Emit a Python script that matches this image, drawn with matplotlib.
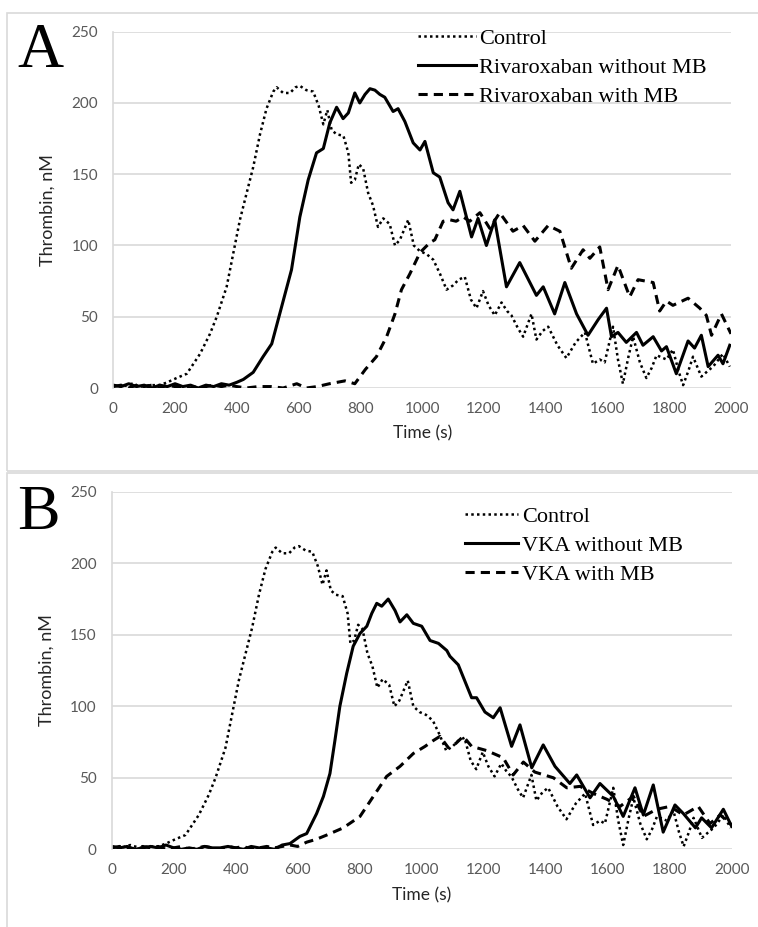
import numpy as np
import matplotlib.pyplot as plt
from matplotlib.patches import Rectangle
from matplotlib.lines import Line2D

# =============================
# Data
# =============================
ctrl_t = [0, 30, 60, 90, 120, 150, 175, 205, 238, 281,
          313, 335, 367, 388, 410, 432, 453, 475, 496, 518,
          529, 550, 572, 590, 604, 625, 647, 665, 680, 693,
          707, 723, 745, 761, 770, 782, 795, 809, 825, 841,
          857, 874, 895, 912, 928, 955, 973, 993, 1014, 1036,
          1058, 1079, 1100, 1118, 1138, 1158, 1176, 1197, 1215, 1235,
          1257, 1275, 1289, 1310, 1327, 1354, 1370, 1390, 1408, 1438,
          1467, 1497, 1527, 1553, 1575, 1591, 1618, 1634, 1650, 1668,
          1683, 1705, 1726, 1743, 1759, 1791, 1812, 1830, 1845, 1862,
          1877, 1904, 1925, 1942, 1974, 1996]
ctrl_v = [2, 1, 3, 1, 2, 2, 4, 7, 10, 24,
          38, 50, 71, 94, 118, 137, 155, 178, 196, 208,
          211, 207, 207, 211, 212, 209, 208, 198, 185, 195,
          181, 178, 177, 165, 144, 146, 157, 154, 137, 128,
          113, 119, 115, 100, 104, 118, 100, 96, 94, 90,
          80, 69, 72, 76, 78, 62, 56, 68, 58, 51,
          60, 54, 51, 42, 36, 52, 34, 40, 43, 30,
          21, 32, 39, 17, 20, 18, 43, 20, 3, 22,
          36, 18, 7, 14, 23, 20, 27, 12, 2, 12,
          22, 8, 12, 15, 24, 15]

riva_t = [0, 25, 50, 75, 100, 125, 150, 175, 200, 225,
          250, 275, 300, 325, 350, 375, 400, 421, 453, 485,
          513, 545, 577, 604, 631, 658, 680, 701, 723, 744,
          761, 782, 798, 815, 831, 847, 863, 879, 906, 922,
          944, 971, 993, 1009, 1036, 1057, 1084, 1100, 1122, 1160,
          1181, 1208, 1235, 1273, 1316, 1370, 1392, 1429, 1462, 1500,
          1537, 1570, 1597, 1613, 1634, 1661, 1694, 1715, 1748, 1775,
          1791, 1823, 1861, 1882, 1904, 1926, 1958, 1974, 1996]
riva_v = [2, 1, 3, 1, 2, 0, 2, 1, 3, 1,
          2, 0, 2, 1, 3, 2, 4, 6, 11, 22,
          31, 57, 83, 120, 146, 165, 168, 186, 197, 189,
          193, 207, 200, 206, 210, 209, 206, 204, 194, 196,
          187, 172, 167, 173, 151, 148, 130, 125, 138, 106,
          119, 100, 118, 71, 88, 65, 71, 52, 74, 52,
          37, 48, 56, 36, 39, 32, 39, 30, 36, 26,
          29, 10, 33, 28, 37, 15, 23, 17, 30]

riva_mb_t = [0, 25, 50, 75, 100, 125, 150, 175, 200, 225,
             250, 275, 300, 325, 350, 375, 400, 430, 470, 510,
             550, 594, 625, 660, 700, 750, 782, 816, 852, 885,
             912, 933, 960, 993, 1025, 1041, 1068, 1090, 1110, 1133,
             1154, 1187, 1219, 1251, 1294, 1327, 1365, 1408, 1446, 1483,
             1521, 1543, 1575, 1602, 1634, 1672, 1699, 1748, 1769, 1791,
             1812, 1861, 1899, 1920, 1937, 1969, 2000]
riva_mb_v = [1, 2, 0, 2, 1, 2, 0, 2, 1, 1,
             0, 1, 1, 2, 1, 2, 1, 0, 1, 1,
             0, 3, 0, 1, 3, 5, 3, 13, 22, 36,
             52, 69, 80, 95, 102, 104, 117, 118, 117, 120,
             117, 123, 112, 123, 110, 114, 103, 114, 110, 84,
             97, 91, 99, 69, 86, 64, 76, 74, 54, 61,
             58, 63, 56, 51, 37, 52, 38]

vka_t = [0, 25, 50, 75, 100, 125, 150, 175, 200, 225,
         250, 275, 300, 325, 350, 375, 400, 425, 450, 475,
         500, 525, 550, 575, 607, 629, 661, 683, 704, 720,
         736, 758, 779, 801, 823, 839, 855, 871, 892, 914,
         930, 952, 973, 1000, 1027, 1054, 1081, 1091, 1118, 1161,
         1177, 1204, 1231, 1253, 1290, 1317, 1355, 1392, 1430, 1478,
         1500, 1543, 1575, 1618, 1650, 1688, 1715, 1747, 1779, 1817,
         1844, 1883, 1903, 1935, 1973, 2000]
vka_v = [2, 1, 2, 0, 1, 2, 1, 3, 1, 0,
         1, 0, 2, 1, 1, 2, 1, 0, 2, 1,
         1, 0, 3, 4, 9, 11, 25, 37, 53, 76,
         100, 123, 142, 151, 156, 165, 172, 170, 175, 167,
         159, 164, 158, 156, 146, 144, 139, 135, 129, 106,
         106, 96, 92, 99, 72, 87, 57, 73, 58, 46,
         52, 36, 46, 37, 23, 43, 24, 45, 12, 31,
         25, 15, 22, 15, 28, 16]

vka_mb_t = [0, 25, 50, 75, 100, 125, 150, 175, 200, 225,
            250, 275, 300, 325, 350, 375, 400, 425, 450, 475,
            500, 525, 550, 575, 600, 629, 660, 694, 747, 801,
            844, 887, 930, 973, 1011, 1037, 1059, 1086, 1110, 1134,
            1161, 1210, 1263, 1295, 1328, 1365, 1425, 1468, 1511, 1554,
            1597, 1640, 1683, 1715, 1758, 1801, 1844, 1892, 1930, 1963,
            2000]
vka_mb_v = [1, 2, 1, 0, 2, 1, 2, 0, 1, 2,
            0, 1, 2, 1, 0, 2, 1, 2, 0, 1,
            2, 1, 2, 3, 2, 5, 7, 10, 15, 23,
            37, 51, 58, 67, 72, 76, 79, 71, 74, 79,
            72, 69, 64, 52, 61, 54, 50, 43, 44, 39,
            35, 30, 37, 23, 28, 30, 24, 30, 18, 24,
            17]

legend_a = ["Control", "Rivaroxaban without MB", "Rivaroxaban with MB"]
legend_b = ["Control", "VKA without MB", "VKA with MB"]

y_ticks = [0, 50, 100, 150, 200, 250]
x_ticks = [0, 200, 400, 600, 800, 1000, 1200, 1400, 1600, 1800, 2000]

# =============================
# Styles
# =============================
W, H = 758, 927
tick_font = "Lato"
serif_font = "Liberation Serif"
grid_col = "#d9d9d9"
tick_col = "#595959"

dot_style = dict(color="black", lw=1.8, linestyle=(0, (1, 1.3)))
solid_style = dict(color="black", lw=2.2, linestyle="-")
dash_style = dict(color="black", lw=2.2, linestyle=(0, (3.0, 2.0)))

fig = plt.figure(figsize=(W / 100, H / 100), dpi=100)


def px_axes(left, right, top, bottom):
    return fig.add_axes([left / W, 1 - bottom / H, (right - left) / W, (bottom - top) / H])


def setup(ax):
    ax.set_xlim(0, 2000)
    ax.set_ylim(0, 250)
    ax.set_xticks(x_ticks)
    ax.set_yticks(y_ticks)
    ax.tick_params(length=0, labelsize=11, labelcolor=tick_col)
    ax.tick_params(axis="y", pad=11)
    ax.tick_params(axis="x", pad=10)
    for lab in ax.get_xticklabels() + ax.get_yticklabels():
        lab.set_fontfamily(tick_font)
    ax.grid(axis="y", color=grid_col, lw=1.2)
    ax.set_axisbelow(True)
    for s in ["top", "right", "bottom"]:
        ax.spines[s].set_visible(False)
    ax.spines["left"].set_color(grid_col)
    ax.spines["left"].set_linewidth(1.2)
    ax.set_xlabel("Time (s)", fontsize=12.5, family=tick_font, color="#262626", labelpad=7)
    ax.set_ylabel("Thrombin, nM", fontsize=13, family=tick_font, color="#262626", labelpad=11)


def add_legend(ax, labels, x, y, handlelen):
    handles = [Line2D([], [], **dot_style), Line2D([], [], **solid_style),
               Line2D([], [], **dash_style)]
    ax.legend(handles, labels, loc="upper left", bbox_to_anchor=(x / W, 1 - y / H),
              bbox_transform=fig.transFigure, frameon=False, borderpad=0,
              borderaxespad=0, handlelength=handlelen, handletextpad=0.15,
              labelspacing=0.38, prop={"family": serif_font, "size": 16})


# panel frames
fig.add_artist(Rectangle((7 / W, 1 - 471 / H), 1, 458 / H, transform=fig.transFigure,
                         fill=False, edgecolor=grid_col, lw=1.2))
fig.add_artist(Rectangle((7 / W, -0.05), 1, 1 - 473 / H + 0.05, transform=fig.transFigure,
                         fill=False, edgecolor=grid_col, lw=1.2))

# Panel A
ax_a = px_axes(113.3, 731, 31.7, 388)
setup(ax_a)
ax_a.plot(ctrl_t, ctrl_v, **dot_style)
ax_a.plot(riva_t, riva_v, **solid_style)
ax_a.plot(riva_mb_t, riva_mb_v, **dash_style)
add_legend(ax_a, legend_a, 418, 28, 2.6)
fig.text(17 / W, 1 - 67 / H, "A", family=serif_font, fontsize=46, va="baseline", ha="left")

# Panel B
ax_b = px_axes(111.7, 731.7, 491.8, 849.3)
setup(ax_b)
ax_b.plot(ctrl_t, ctrl_v, **dot_style)
ax_b.plot(vka_t, vka_v, **solid_style)
ax_b.plot(vka_mb_t, vka_mb_v, **dash_style)
add_legend(ax_b, legend_b, 465, 506, 2.4)
fig.text(17 / W, 1 - 529 / H, "B", family=serif_font, fontsize=46, va="baseline", ha="left")

fig.savefig("out.png", dpi=100)
